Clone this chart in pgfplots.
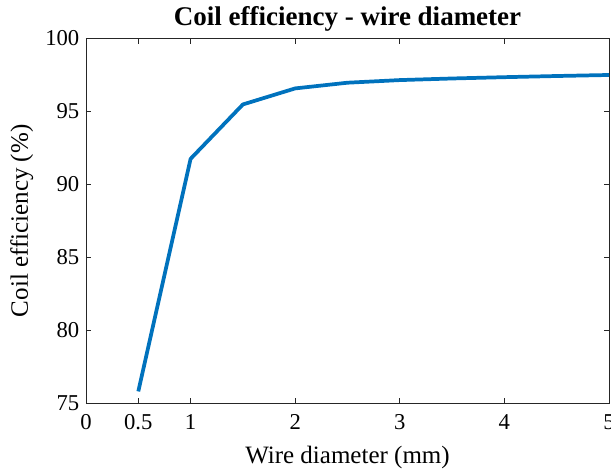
\documentclass[border=0pt]{standalone}
\usepackage{fontspec}
\setmainfont{Liberation Serif}
\usepackage{pgfplots}
\pgfplotsset{compat=1.18}
\definecolor{mblue}{rgb}{0,0.447,0.741}
\definecolor{maxis}{rgb}{0.15,0.15,0.15}
\begin{document}
\begin{tikzpicture}
\begin{axis}[
  name=ax,
  scale only axis,
  width=392.25pt, height=273.4pt,
  xmin=0, xmax=5, ymin=75, ymax=100,
  xtick={0,0.5,1,2,3,4,5},
  xticklabels={0,0.5,1,2,3,4,5},
  ytick={75,80,85,90,95,100},
  yticklabels={75,80,85,90,95,100},
  /pgf/number format/assume math mode=true,
  tick align=inside,
  major tick length=3.75pt,
  axis line style={maxis, line width=0.7pt},
  every tick/.style={maxis, line width=0.6pt},
  tick label style={font=\fontsize{17pt}{20pt}\selectfont, text=black},
  xticklabel style={yshift=-5pt},
  yticklabel style={xshift=-1.5pt},
  xlabel={Wire diameter (mm)},
  ylabel={Coil efficiency (\%)},
  label style={font=\fontsize{18.75pt}{22pt}\selectfont},
  xlabel style={at={(axis description cs:0.5,-0.166)}, anchor=base},
  ylabel style={at={(axis description cs:-0.111,0.5)}, anchor=base, rotate=0},
  title={Coil efficiency - wire diameter},
  title style={font=\fontsize{20.25pt}{24pt}\selectfont\bfseries, at={(axis description cs:0.5,1.015)}, anchor=base},
  clip=true,
]
\addplot[mblue, line width=2.8pt, line join=round] coordinates {
  (0.5,75.8) (1,91.75) (1.5,95.48) (2,96.58) (2.5,96.97) (3,97.15)
  (3.5,97.26) (4,97.35) (4.5,97.43) (5,97.5)
};
\end{axis}
\pgfresetboundingbox
\path[use as bounding box] ([xshift=-64.5pt,yshift=-48.75pt]ax.south west) rectangle ([xshift=1.5pt,yshift=28.9pt]ax.north east);
\end{tikzpicture}
\end{document}
